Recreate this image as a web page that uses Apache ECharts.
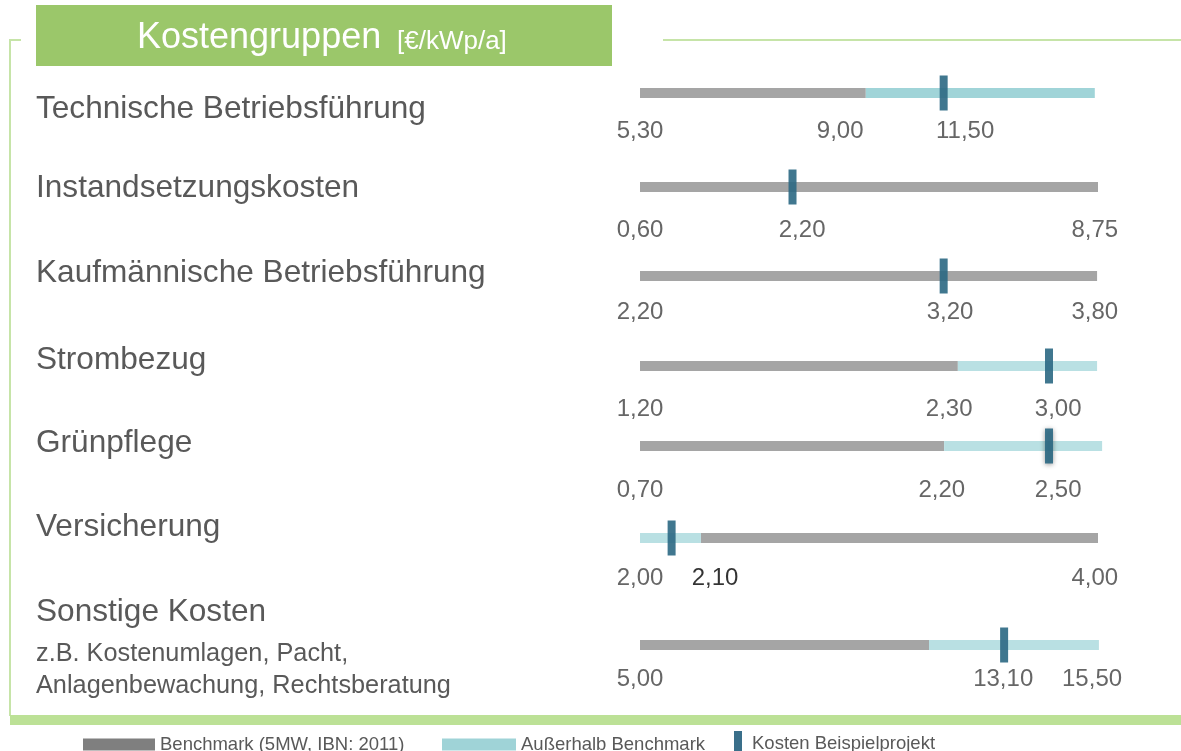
<!DOCTYPE html>
<html>
<head>
<meta charset="utf-8">
<script src="https://cdn.jsdelivr.net/npm/echarts@6/dist/echarts.min.js"></script>
<style>
  html, body { margin: 0; padding: 0; background: #fff; }
  #chart { width: 1181px; height: 751px; }
</style>
</head>
<body>
<div id="chart"></div>
<script>
// Kostengruppen [€/kWp/a]
const categories = ['Technische Betriebsführung', 'Instandsetzungskosten', 'Kaufmännische Betriebsführung',
  'Strombezug', 'Grünpflege', 'Versicherung', 'Sonstige Kosten'];
const categoryNote = ['z.B. Kostenumlagen, Pacht,', 'Anlagenbewachung, Rechtsberatung'];

// numbers printed under the bars, null = not printed
const minValues = [5.30, 0.60, 2.20, 1.20, 0.70, 2.00, 5.00];
const benchmarkValues = [9.00, null, null, 2.30, 2.20, null, null];
const projectValues = [11.50, 2.20, 3.20, 3.00, 2.50, 2.10, 13.10];
const maxValues = [null, 8.75, 3.80, null, null, 4.00, 15.50];

// bars are schematic, not to scale: 0..100 = share of the bar length
const benchmarkFrom = [0, 0, 0, 0, 0, 13.3, 0];
const benchmarkTo = [49.3, 100, 99.8, 69.4, 66.4, 100, 63.1];
const outsideFrom = [49.3, null, null, 69.4, 66.4, 0, 63.1];
const outsideTo = [99.3, null, null, 99.8, 100.9, 13.3, 100.2];
const projectPos = [66.3, 33.3, 66.3, 89.3, 89.3, 6.9, 79.5];

// where the numbers stand along the bar (same 0..100 share)
const minLabelPos = [0, 0, 0, 0, 0, 0, 0];
const benchmarkLabelPos = [43.7, null, null, 67.5, 65.9, null, null];
const projectLabelPos = [71.0, 35.4, 67.7, 91.3, 91.3, 16.4, 79.3];
const maxLabelPos = [null, 99.3, 99.3, null, null, 99.3, 98.7];

const legendNames = ['Benchmark (5MW, IBN: 2011)', 'Außerhalb Benchmark', 'Kosten Beispielprojekt'];

// layout (pixels)
const barY = [93, 187, 276, 366, 446, 538, 645];
const numBase = [138, 237, 319, 416, 497, 585, 686];
const nameBase = [120, 199, 284, 371, 454, 538, 623];

const FONT = '"Liberation Sans", Arial, Helvetica, sans-serif';
const GRAY = '#a5a5a5';
const BLUE = '#b9e0e3';
const MARK = '#2b6883';

const fmt = v => v.toFixed(2).replace('.', ',');

const grids = [], xAxes = [], yAxes = [], series = [];

function segRender(params, api) {
  const a = api.coord([api.value(0), 0]);
  const b = api.coord([api.value(1), 0]);
  return {
    type: 'rect',
    shape: { x: a[0], y: a[1] - 5, width: b[0] - a[0], height: 10 },
    style: api.style()
  };
}

categories.forEach((c, i) => {
  grids.push({ left: 640, width: 458, top: barY[i] - 25, height: 50 });
  xAxes.push({ gridIndex: i, type: 'value', min: 0, max: 100, show: false });
  yAxes.push({ gridIndex: i, type: 'value', min: -1, max: 1, show: false });

  series.push({
    name: legendNames[0], type: 'custom', xAxisIndex: i, yAxisIndex: i, z: 2,
    itemStyle: { color: GRAY },
    renderItem: segRender,
    data: [[benchmarkFrom[i], benchmarkTo[i]]]
  });
  if (outsideFrom[i] !== null) {
    series.push({
      name: legendNames[1], type: 'custom', xAxisIndex: i, yAxisIndex: i, z: 2,
      itemStyle: { color: i === 0 ? '#a0d4d8' : BLUE },
      renderItem: segRender,
      data: [[outsideFrom[i], outsideTo[i]]]
    });
  }
  series.push({
    name: legendNames[2], type: 'scatter', xAxisIndex: i, yAxisIndex: i, z: 3, clip: false,
    symbol: 'rect', symbolSize: [8, 35],
    itemStyle: Object.assign({ color: MARK, opacity: 0.9 },
      i === 4 ? { shadowBlur: 5, shadowColor: 'rgba(0,0,0,0.45)', shadowOffsetY: 1 } : {}),
    data: [[projectPos[i], 0]]
  });

  const nums = [];
  const add = (pos, v, color) => {
    if (v === null) return;
    nums.push({ name: fmt(v), value: [pos, 0], label: color ? { color: color } : undefined });
  };
  add(minLabelPos[i], minValues[i]);
  add(benchmarkLabelPos[i], benchmarkValues[i]);
  add(projectLabelPos[i], projectValues[i], i === 5 ? '#000' : null);
  add(maxLabelPos[i], maxValues[i]);
  series.push({
    name: 'werte', type: 'scatter', xAxisIndex: i, yAxisIndex: i, z: 4, clip: false,
    symbolSize: 1, itemStyle: { color: 'transparent' }, silent: true,
    label: {
      show: true, position: 'inside', formatter: '{b}',
      offset: [0, numBase[i] - barY[i] - 6.5],
      fontSize: 24, fontFamily: FONT, color: '#404040'
    },
    data: nums
  });
});

const graphics = [
  { type: 'rect', shape: { x: 36, y: 5, width: 576, height: 61 }, style: { fill: '#9bc76a' } },
  { type: 'text', style: { text: 'Kostengruppen', x: 137, y: 50 - 12, font: '36px ' + FONT, fill: '#fff', verticalAlign: 'middle' } },
  { type: 'text', style: { text: '[€/kWp/a]', x: 397, y: 50 - 8.6, font: '26px ' + FONT, fill: '#fff', verticalAlign: 'middle' } },
  { type: 'polyline', shape: { points: [[21, 40], [10, 40], [10, 716]] }, style: { stroke: '#c6e4a8', lineWidth: 2, fill: null } },
  { type: 'line', shape: { x1: 663, y1: 40, x2: 1181, y2: 40 }, style: { stroke: '#c6e4a8', lineWidth: 2 } },
  { type: 'rect', shape: { x: 10, y: 715, width: 1171, height: 10 }, style: { fill: '#bce196' } }
];
categories.forEach((c, i) => {
  graphics.push({ type: 'text', style: { text: c, x: 36, y: nameBase[i] - 10.5, font: '31.6px ' + FONT, fill: '#595959', verticalAlign: 'middle' } });
});
graphics.push({ type: 'text', style: { text: categoryNote[0], x: 36, y: 663 - 8.5, font: '25.3px ' + FONT, fill: '#595959', verticalAlign: 'middle' } });
graphics.push({ type: 'text', style: { text: categoryNote[1], x: 36, y: 695 - 8.5, font: '25.3px ' + FONT, fill: '#595959', verticalAlign: 'middle' } });

const legendText = { fontSize: 18.5, fontFamily: FONT, color: '#595959' };

const option = {
  animation: false,
  grid: grids,
  xAxis: xAxes,
  yAxis: yAxes,
  legend: [
    { left: 83, top: 735, padding: 0, itemWidth: 72, itemHeight: 12, selectedMode: false, textStyle: legendText,
      data: [{ name: legendNames[0], icon: 'rect', itemStyle: { color: '#7f7f7f' } }] },
    { left: 442, top: 735, padding: 0, itemWidth: 74, itemHeight: 12, selectedMode: false, textStyle: legendText,
      data: [{ name: legendNames[1], icon: 'rect', itemStyle: { color: '#9fd3d7' } }] },
    { left: 734, top: 731, padding: 0, itemWidth: 8, itemHeight: 26, selectedMode: false,
      textStyle: Object.assign({ padding: [0, 0, 0, 5] }, legendText),
      data: [{ name: legendNames[2], icon: 'rect', itemStyle: { color: '#3a6f8a', opacity: 1 } }] }
  ],
  graphic: graphics,
  series: series
};

const chart = echarts.init(document.getElementById('chart'));
chart.setOption(option);
</script>
</body>
</html>
